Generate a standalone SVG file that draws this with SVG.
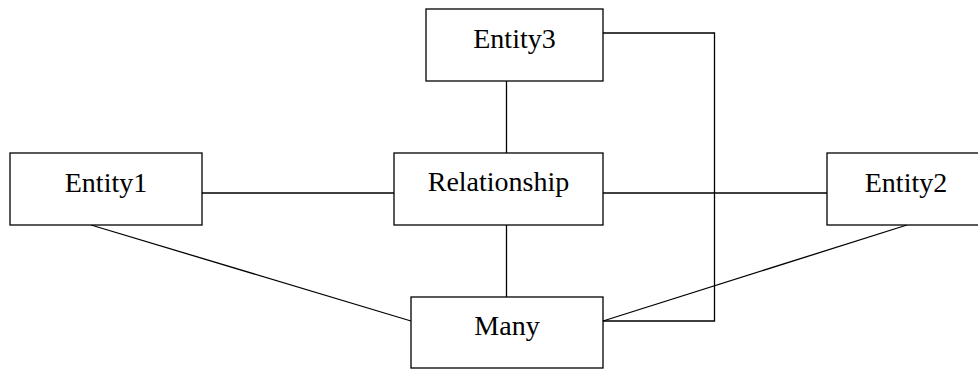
<svg xmlns="http://www.w3.org/2000/svg" width="978" height="369" viewBox="0 0 978 369">
<style>
rect.n{fill:#fff;stroke:#000;stroke-width:1.3}
text{font-family:'Liberation Serif','Times New Roman','DejaVu Serif',serif;font-size:28px;fill:#000;text-anchor:middle}
#connectors line,#connectors polyline{stroke:#000;stroke-width:1.3;fill:none}
</style>
<rect width="978" height="369" fill="#fff"/>
<g id="connectors">
<line x1="202" y1="193" x2="394" y2="193"/>
<line x1="603" y1="193" x2="827" y2="193"/>
<line x1="506.5" y1="81" x2="506.5" y2="153"/>
<line x1="506.5" y1="225" x2="506.5" y2="297"/>
<line x1="91" y1="225" x2="411" y2="321"/>
<line x1="907" y1="225" x2="603" y2="321"/>
<polyline points="603,33 714.5,33 714.5,321 603,321"/>
</g>
<g id="entity3"><rect class="n" x="426" y="9" width="177" height="72"/><text x="514.5" y="48" font-family="Liberation Serif, serif">Entity3</text></g>
<g id="relationship"><rect class="n" x="394" y="153" width="209" height="72"/><text x="498.5" y="191" font-family="Liberation Serif, serif">Relationship</text></g>
<g id="entity1"><rect class="n" x="10" y="153" width="192" height="72"/><text x="106" y="192" font-family="Liberation Serif, serif">Entity1</text></g>
<g id="entity2"><rect class="n" x="827" y="153" width="158" height="72"/><text x="906" y="192" font-family="Liberation Serif, serif">Entity2</text></g>
<g id="many"><rect class="n" x="411" y="297" width="192" height="71"/><text x="507" y="335" font-family="Liberation Serif, serif">Many</text></g>
</svg>
